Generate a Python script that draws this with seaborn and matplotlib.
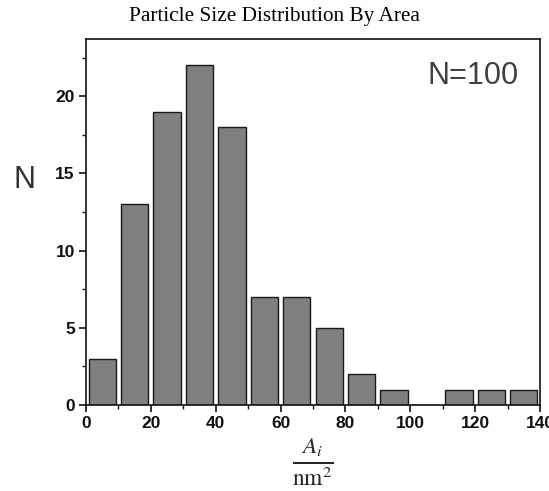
import matplotlib
matplotlib.use("Agg")
import matplotlib.pyplot as plt
import seaborn as sns
import numpy as np
from matplotlib.ticker import MultipleLocator

bin_edges = [0, 10, 20, 30, 40, 50, 60, 70, 80, 90, 100, 110, 120, 130, 140]
counts = [3, 13, 19, 22, 18, 7, 7, 5, 2, 1, 0, 1, 1, 1]
bin_centers = [(a + b) / 2 for a, b in zip(bin_edges[:-1], bin_edges[1:])]
x_ticks = [0, 20, 40, 60, 80, 100, 120, 140]
y_ticks = [0, 5, 10, 15, 20]

sns.set_style("ticks")
plt.rcParams['font.family'] = ['Liberation Sans', 'DejaVu Sans']
plt.rcParams['mathtext.fontset'] = 'stix'

fig = plt.figure(figsize=(5.49, 4.91), dpi=100)
ax = fig.add_axes([0.1566, 0.1752, 0.827, 0.7454])

sns.histplot(x=bin_centers, weights=counts, bins=bin_edges, shrink=0.84,
             color="#7f7f7f", edgecolor="#1a1a1a", linewidth=1.0, alpha=1.0, ax=ax)

ax.set_xlim(0, 140)
ax.set_ylim(0, 23.7)
ax.set_xticks(x_ticks)
ax.set_yticks(y_ticks)
ax.xaxis.set_minor_locator(MultipleLocator(10))
ax.yaxis.set_minor_locator(MultipleLocator(2.5))
ax.tick_params(axis='both', which='major', direction='out', length=5, width=1.2,
               labelsize=12.5, color='#111111', labelcolor='#111111', pad=3)
ax.tick_params(axis='both', which='minor', direction='out', length=3, width=1.0,
               color='#111111')
for lab in ax.get_xticklabels() + ax.get_yticklabels():
    lab.set_fontweight('bold')
for sp in ax.spines.values():
    sp.set_visible(True)
    sp.set_linewidth(1.2)
    sp.set_color('#111111')
ax.set_xlabel("")
ax.set_ylabel("")

fig.text(0.5, 1 - 16 / 491, "Particle Size Distribution By Area", ha='center', va='center',
         fontsize=15.3, family=['Liberation Serif'], color='black')
fig.text(25 / 549, 1 - 180 / 491, "N", ha='center', va='center', fontsize=22, color='#333333')
fig.text(519 / 549, 1 - 76 / 491, "N=100", ha='right', va='center',
         fontsize=22, color='#404040')
fig.text(313 / 549, 3 / 491, r'$\frac{A_i}{\mathrm{nm}^2}$', ha='center', va='bottom',
         fontsize=24)

fig.savefig("out.png", dpi=100)
